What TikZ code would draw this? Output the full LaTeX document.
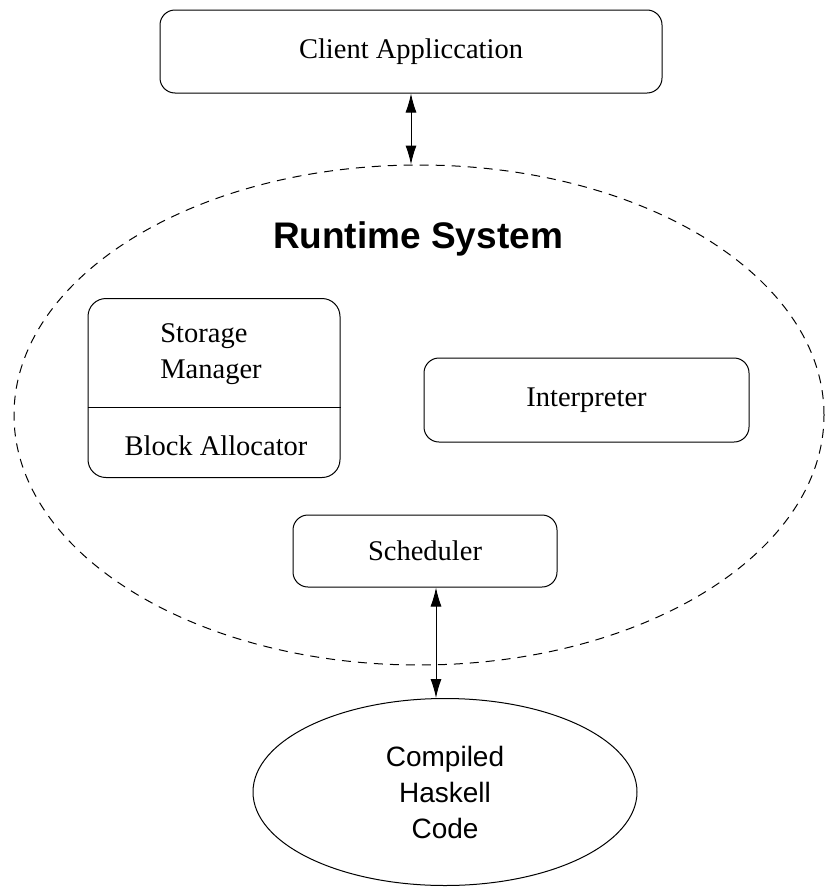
\documentclass[tikz,border=0pt]{standalone}
\usepackage{fontspec}
\setmainfont{Liberation Serif}
\setsansfont{Liberation Sans}
\usetikzlibrary{arrows.meta,shapes.geometric}

\begin{document}
\begin{tikzpicture}[x=1pt,y=-1pt,line width=1pt,
  box/.style={draw, rounded corners=15pt, inner sep=0pt, font=\fontsize{28.5}{36}\selectfont},
  conn/.style={{Latex[length=19pt,width=11pt]}-{Latex[length=19pt,width=11pt]}}]
  \useasboundingbox (0,0) rectangle (825,889);

  \node[box, minimum width=502, minimum height=83] (client) at (411,51.5) {\raisebox{-3pt}{Client Appliccation}};

  \node[draw, dashed, dash pattern=on 9pt off 7pt, ellipse, minimum width=810, minimum height=500] (rts) at (419,415) {};
  \node[font=\sffamily\bfseries\fontsize{37}{44}\selectfont] (title) at (418,239) {Runtime System};

  \node[box, rounded corners=18pt, minimum width=252, minimum height=179] (store) at (214,388) {};
  \draw (store.west |- 0,407) -- (store.east |- 0,407);
  \node[align=left, font=\fontsize{28.5}{36}\selectfont] (storage) at (211,354) {Storage\\Manager};
  \node[font=\fontsize{28.5}{36}\selectfont] (alloc) at (216,446) {Block Allocator};

  \node[box, minimum width=325, minimum height=84] (interp) at (586.5,400) {Interpreter};
  \node[box, minimum width=264, minimum height=72] (sched) at (425,551) {\raisebox{-2pt}{Scheduler}};

  \node[draw, ellipse, inner sep=0pt, minimum width=384, minimum height=187, align=center,
        font=\sffamily\fontsize{28}{36}\selectfont] (code) at (445,792) {Compiled\\Haskell\\Code};

  \draw[conn] (client.south) -- (client.south |- rts.north);
  \draw[conn] ([xshift=11]sched.south) -- ([xshift=11]sched.south |- code.north);
\end{tikzpicture}
\end{document}
